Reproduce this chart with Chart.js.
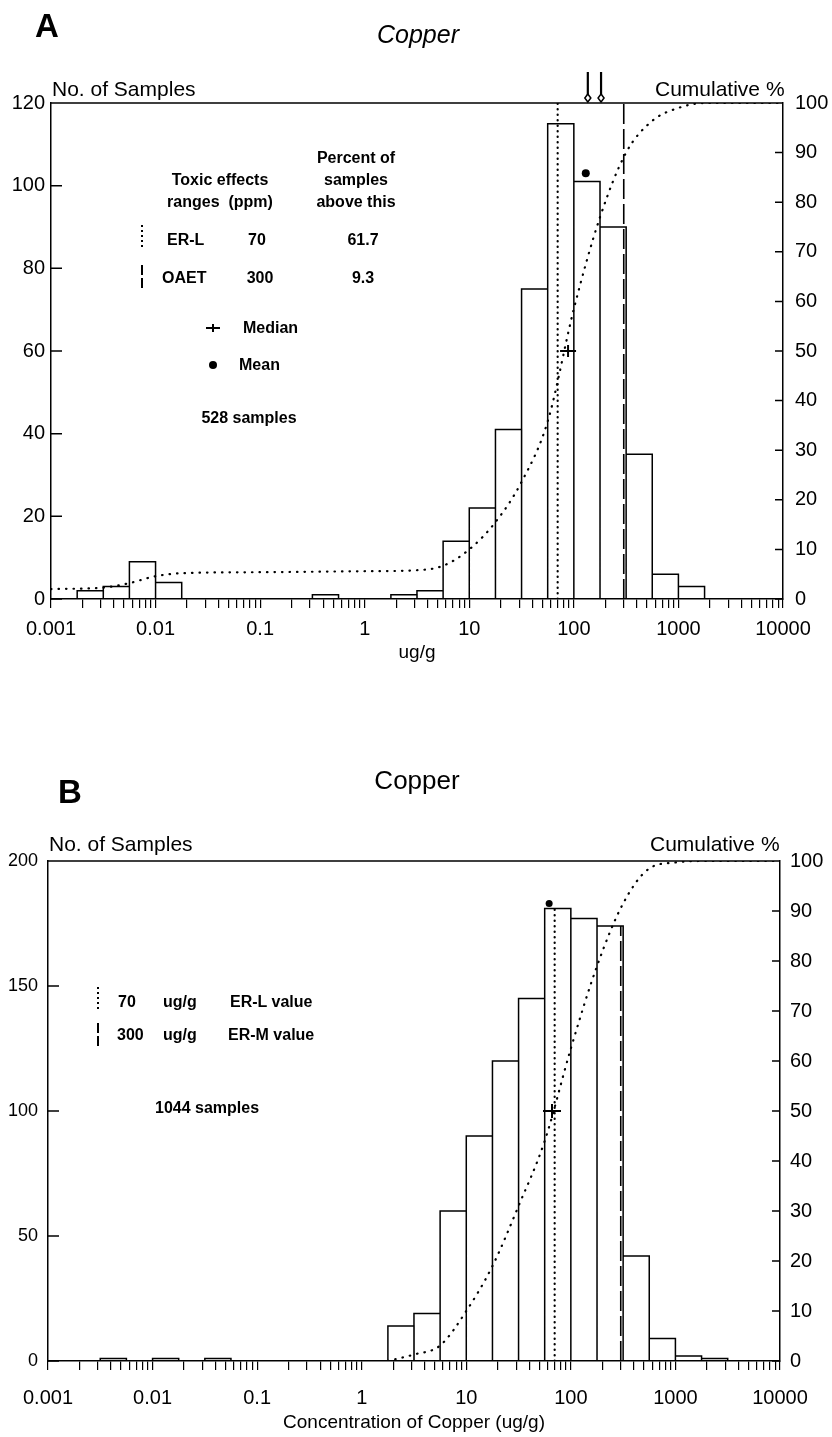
<!DOCTYPE html>
<html>
<head>
<meta charset="utf-8">
<title>Copper</title>
<script src="https://cdn.jsdelivr.net/npm/chart.js@4.4.1/dist/chart.umd.min.js"></script>
<style>
  html, body { margin: 0; padding: 0; background: #fff; }
  body { position: relative; width: 832px; height: 1437px; overflow: hidden;
         font-family: "Liberation Sans", Arial, Helvetica, sans-serif; color: #000; }
  canvas { position: absolute; left: 0; }
  .t { position: absolute; white-space: pre; line-height: 1; transform: translateY(-50%); }
  .c { transform: translate(-50%, -50%); }
  .lg { font-weight: bold; font-size: 16px; }
  .ax { font-size: 21px; }
  .dot { position: absolute; width: 2px; background: repeating-linear-gradient(#000 0 2px, transparent 2px 5px); }
  .dash { position: absolute; width: 1.6px; background: repeating-linear-gradient(#000 0 10px, transparent 10px 13px); }
  .bar { position: absolute; background: #000; }
  .mean { position: absolute; border-radius: 50%; background: #000; }
</style>
</head>
<body>
<canvas id="chartA" width="832" height="680" style="top:0"></canvas>
<canvas id="chartB" width="832" height="677" style="top:760px"></canvas>

<!-- panel A headings -->
<div class="t c" style="left:47px; top:25px; font-size:33px; font-weight:bold">A</div>
<div class="t c" style="left:418px; top:34px; font-size:25px; font-style:italic">Copper</div>
<div class="t ax" style="left:52px; top:88px">No. of Samples</div>
<div class="t ax" style="left:655px; top:88px">Cumulative %</div>

<!-- panel A legend -->
<div class="t c lg" style="left:220px; top:180px">Toxic effects</div>
<div class="t c lg" style="left:220px; top:202px">ranges  (ppm)</div>
<div class="t c lg" style="left:356px; top:158px">Percent of</div>
<div class="t c lg" style="left:356px; top:180px">samples</div>
<div class="t c lg" style="left:356px; top:202px">above this</div>
<div class="dot" style="left:141px; top:225px; height:25px"></div>
<div class="t lg" style="left:167px; top:240px">ER-L</div>
<div class="t c lg" style="left:257px; top:240px">70</div>
<div class="t c lg" style="left:363px; top:240px">61.7</div>
<div class="dash" style="left:141px; top:265px; height:26px"></div>
<div class="t lg" style="left:162px; top:278px">OAET</div>
<div class="t c lg" style="left:260px; top:278px">300</div>
<div class="t c lg" style="left:363px; top:278px">9.3</div>
<div class="bar" style="left:206px; top:327px; width:14px; height:2px"></div>
<div class="bar" style="left:212px; top:324px; width:2px; height:8px"></div>
<div class="t lg" style="left:243px; top:328px">Median</div>
<div class="mean" style="left:209px; top:361px; width:8px; height:8px"></div>
<div class="t lg" style="left:239px; top:365px">Mean</div>
<div class="t c lg" style="left:249px; top:418px">528 samples</div>

<!-- panel B headings -->
<div class="t c" style="left:70px; top:791px; font-size:33px; font-weight:bold">B</div>
<div class="t c" style="left:417px; top:780px; font-size:26px">Copper</div>
<div class="t ax" style="left:49px; top:843px">No. of Samples</div>
<div class="t ax" style="left:650px; top:843px">Cumulative %</div>

<!-- panel B legend -->
<div class="dot" style="left:97px; top:987px; height:23px"></div>
<div class="t lg" style="left:118px; top:1002px">70</div>
<div class="t lg" style="left:163px; top:1002px">ug/g</div>
<div class="t lg" style="left:230px; top:1002px">ER-L value</div>
<div class="dash" style="left:97px; top:1023px; height:24px"></div>
<div class="t lg" style="left:117px; top:1035px">300</div>
<div class="t lg" style="left:163px; top:1035px">ug/g</div>
<div class="t lg" style="left:228px; top:1035px">ER-M value</div>
<div class="t lg" style="left:155px; top:1108px">1044 samples</div>

<script>
// x axis (ug/g, log scale)
const xTickLabels = ['0.001', '0.01', '0.1', '1', '10', '100', '1000', '10000'];
const BIN_RATIO = Math.pow(10, 0.25); // quarter-decade bins

// Panel A: 528 samples
const binStartsA = [0.00178, 0.00316, 0.00562, 0.01, 0.316, 1.78, 3.16, 5.62, 10, 17.8, 31.6, 56.2, 100, 178, 316, 562, 1000];
const countsA    = [2, 3, 9, 4, 1, 1, 2, 14, 22, 41, 75, 115, 101, 90, 35, 6, 3];
const cumXA   = [0.001, 0.00316, 0.00562, 0.01, 0.0178, 0.1, 1, 3.16, 5.62, 10, 17.8, 31.6, 56.2, 100, 178, 316, 562, 1000, 1778, 10000];
const cumPctA = [2.0, 2.3, 3.2, 4.6, 5.2, 5.4, 5.6, 5.8, 6.7, 10, 15.5, 23.6, 35.8, 58.5, 77, 90, 96.4, 99, 100, 100];
const guidesA    = [70, 300];
const guideTopsA = [120, 120];
const medianA = [88, 50];    // x, cumulative %
const meanA   = [130, 103];  // x, no. of samples
const arrowsA = [136, 182];

// Panel B: 1044 samples
const binStartsB = [0.00316, 0.01, 0.0316, 1.78, 3.16, 5.62, 10, 17.8, 31.6, 56.2, 100, 178, 316, 562, 1000, 1778];
const countsB    = [1, 1, 1, 14, 19, 60, 90, 120, 145, 181, 177, 174, 42, 9, 2, 1];
const cumXB   = [1.78, 3.16, 5.62, 10, 17.8, 31.6, 56.2, 100, 178, 316, 562, 1000, 1778, 10000];
const cumPctB = [0, 1.3, 3.1, 10, 19, 31, 44, 62.5, 79, 91.5, 98.5, 99.7, 100, 100];
const guidesB    = [70, 300];
const guideTopsB = [181, 174];
const medianB = [66, 50];
const meanB   = [62, 183];

// 1..9 x 10^k tick marks, labels only on decades
const xTickValues = [];
for (let e = -3; e <= 3; e++) {
    for (let m = 1; m <= 9; m++) xTickValues.push(Number((m * Math.pow(10, e)).toPrecision(2)));
}
xTickValues.push(10000);

function decadeLabel(v) {
    const e = Math.log10(v);
    if (Math.abs(e - Math.round(e)) < 1e-6) return xTickLabels[Math.round(e) + 3];
    return '';
}

function histPoints(starts, counts) {
    const pts = [];
    starts.forEach((lo, i) => {
        const hi = lo * BIN_RATIO;
        pts.push({x: lo, y: 0}, {x: lo, y: counts[i]}, {x: hi, y: counts[i]}, {x: hi, y: 0});
    });
    return pts;
}

// top border, inward y ticks, arrows
const framePlugin = {
    id: 'frame',
    afterDraw(chart, args, opts) {
        const {ctx, chartArea: a, scales} = chart;
        ctx.save();
        ctx.strokeStyle = '#000';
        ctx.lineWidth = 1.5;
        ctx.beginPath();
        ctx.moveTo(a.left, a.top);
        ctx.lineTo(a.right, a.top);
        scales.y.ticks.forEach(t => {
            const py = scales.y.getPixelForValue(t.value);
            ctx.moveTo(a.left, py);
            ctx.lineTo(a.left + opts.leftTick, py);
        });
        scales.y2.ticks.forEach(t => {
            const py = scales.y2.getPixelForValue(t.value);
            ctx.moveTo(a.right - opts.rightTick, py);
            ctx.lineTo(a.right, py);
        });
        ctx.stroke();

        (opts.arrows || []).forEach(v => {
            const px = scales.x.getPixelForValue(v);
            ctx.lineWidth = 2.2;
            ctx.beginPath();
            ctx.moveTo(px, a.top - 31);
            ctx.lineTo(px, a.top - 8);
            ctx.stroke();
            ctx.lineWidth = 1.5;
            ctx.beginPath();
            ctx.moveTo(px, a.top - 1);
            ctx.lineTo(px - 3, a.top - 5);
            ctx.lineTo(px, a.top - 9);
            ctx.lineTo(px + 3, a.top - 5);
            ctx.closePath();
            ctx.fillStyle = '#fff';
            ctx.fill();
            ctx.stroke();
        });
        ctx.restore();
    }
};

function makeChart(id, p) {
    const family = '"Liberation Sans", Arial, sans-serif';
    const pt = (xs, ys) => xs.map((x, i) => ({x: x, y: ys[i]}));
    return new Chart(document.getElementById(id), {
        type: 'line',
        data: {
            datasets: [
                {   // histogram outlines
                    data: histPoints(p.binStarts, p.counts),
                    yAxisID: 'y', borderColor: '#000', borderWidth: 1.5,
                    pointRadius: 0, tension: 0, fill: false
                },
                {   // cumulative %
                    data: pt(p.cumX, p.cumPct),
                    yAxisID: 'y2', borderColor: '#000', borderWidth: 2.2,
                    borderDash: [0.5, 7], borderCapStyle: 'round',
                    cubicInterpolationMode: 'monotone', pointRadius: 0, fill: false
                },
                {   // ER-L
                    data: [{x: p.guides[0], y: 0}, {x: p.guides[0], y: p.guideTops[0]}],
                    yAxisID: 'y', borderColor: '#000', borderWidth: 2.2,
                    borderDash: [0.5, 5], borderCapStyle: 'round', pointRadius: 0
                },
                {   // OAET / ER-M
                    data: [{x: p.guides[1], y: 0}, {x: p.guides[1], y: p.guideTops[1]}],
                    yAxisID: 'y', borderColor: '#000', borderWidth: 1.6,
                    borderDash: [20, 5], pointRadius: 0
                },
                {   // median, horizontal stroke
                    data: [{x: p.median[0], y: p.median[1]}],
                    yAxisID: 'y2', showLine: false, pointStyle: 'line',
                    pointRadius: p.medianW, pointBorderWidth: 2, pointBorderColor: '#000'
                },
                {   // median, vertical stroke
                    data: [{x: p.median[0], y: p.median[1]}],
                    yAxisID: 'y2', showLine: false, pointStyle: 'line', pointRotation: 90,
                    pointRadius: p.medianH, pointBorderWidth: 2, pointBorderColor: '#000'
                },
                {   // mean
                    data: [{x: p.mean[0], y: p.mean[1]}],
                    yAxisID: 'y', showLine: false, pointStyle: 'circle',
                    pointRadius: p.meanR, pointBackgroundColor: '#000', pointBorderWidth: 0
                }
            ]
        },
        options: {
            responsive: false,
            animation: false,
            devicePixelRatio: 1,
            layout: {padding: {top: p.padTop, left: 0, right: 0, bottom: 0}},
            plugins: {
                legend: {display: false},
                tooltip: {enabled: false},
                frame: {leftTick: 11, rightTick: 8, arrows: p.arrows}
            },
            scales: {
                x: {
                    type: 'logarithmic', position: 'bottom', min: 0.001, max: 10000,
                    afterBuildTicks: s => { s.ticks = xTickValues.map(v => ({value: v})); },
                    afterFit: s => { s.height = p.xHeight; },
                    grid: {display: true, drawOnChartArea: false, drawTicks: true,
                           tickLength: 9, color: '#000', lineWidth: 1.2},
                    border: {display: true, color: '#000', width: 1.5},
                    ticks: {autoSkip: false, maxRotation: 0, minRotation: 0, padding: p.xPad,
                            color: '#000', font: {family: family, size: 20},
                            callback: v => decadeLabel(v)},
                    title: {display: true, text: p.xTitle, color: '#000',
                            font: {family: family, size: 19},
                            padding: {top: 0, bottom: p.xTitlePad}}
                },
                y: {
                    type: 'linear', position: 'left', min: 0, max: p.yMax,
                    afterFit: s => { s.width = p.leftW; },
                    grid: {display: false, drawTicks: false, tickLength: 0},
                    border: {display: true, color: '#000', width: 1.5},
                    ticks: {stepSize: p.yStep, padding: p.leftPad, color: '#000',
                            font: {family: family, size: p.tickSize}}
                },
                y2: {
                    type: 'linear', position: 'right', min: 0, max: 100,
                    afterFit: s => { s.width = p.rightW; },
                    grid: {display: false, drawTicks: false, tickLength: 0},
                    border: {display: true, color: '#000', width: 1.5},
                    ticks: {stepSize: 10, padding: p.rightPad, color: '#000',
                            font: {family: family, size: 20}}
                }
            }
        },
        plugins: [framePlugin]
    });
}

makeChart('chartA', {
    binStarts: binStartsA, counts: countsA, cumX: cumXA, cumPct: cumPctA,
    guides: guidesA, guideTops: guideTopsA, median: medianA, mean: meanA, arrows: arrowsA,
    yMax: 120, yStep: 20, xTitle: 'ug/g',
    padTop: 103, xHeight: 81, leftW: 51, rightW: 49, leftPad: 6, rightPad: 12,
    xPad: 9, xTitlePad: 16, tickSize: 20, medianW: 8, medianH: 6, meanR: 4
});

makeChart('chartB', {
    binStarts: binStartsB, counts: countsB, cumX: cumXB, cumPct: cumPctB,
    guides: guidesB, guideTops: guideTopsB, median: medianB, mean: meanB, arrows: [],
    yMax: 200, yStep: 50, xTitle: 'Concentration of Copper (ug/g)',
    padTop: 101, xHeight: 76, leftW: 48, rightW: 52, leftPad: 10, rightPad: 10,
    xPad: 16, xTitlePad: 3, tickSize: 18, medianW: 9, medianH: 7, meanR: 3.5
});
</script>
</body>
</html>
